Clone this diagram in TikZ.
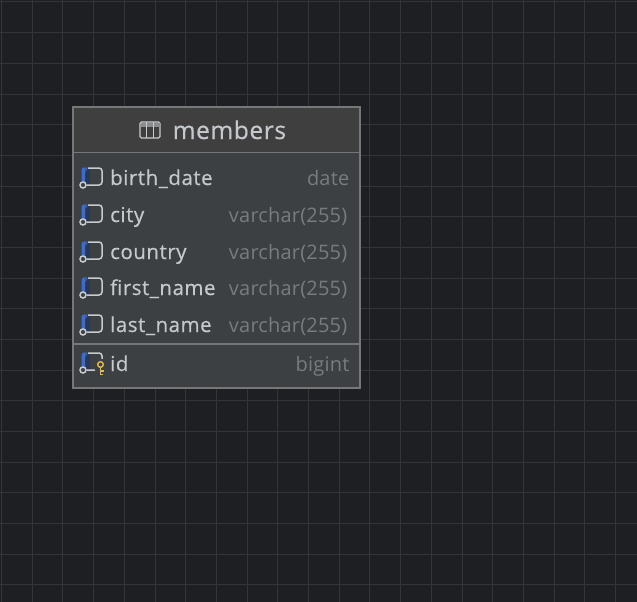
\documentclass[tikz,border=0pt]{standalone}
\usepackage{fontspec}
\setmainfont{Open Sans}
\usetikzlibrary{positioning,calc}
\definecolor{Canvas}{RGB}{30,31,34}
\definecolor{GridLine}{RGB}{51,53,54}
\definecolor{Head}{RGB}{63,63,63}
\definecolor{Body}{RGB}{60,64,67}
\definecolor{Edge}{RGB}{118,120,120}
\definecolor{Name}{RGB}{197,200,204}
\definecolor{Kind}{RGB}{120,124,128}
\definecolor{Blue}{RGB}{62,108,200}
\definecolor{DarkBlue}{RGB}{38,56,92}
\definecolor{Key}{RGB}{232,184,80}
\definecolor{Glyph}{RGB}{200,203,206}
\newcommand{\colicon}[1]{%
 \fill[DarkBlue] ($(#1)+(-25,-9.5)$) rectangle ($(#1)+(-20,8.5)$);
 \fill[Blue,rounded corners=3pt] ($(#1)+(-28.5,10)$) -- ($(#1)+(-28.5,-9.7)$) -- ($(#1)+(-23,-9.7)$) -- ($(#1)+(-23,-7.5)$) -- ($(#1)+(-25,-7.5)$) -- ($(#1)+(-25,10)$) -- cycle;
 \draw[Glyph,line width=1.5pt,rounded corners=3pt] ($(#1)+(-22,-9)$) -- ($(#1)+(-8,-9)$) -- ($(#1)+(-8,8)$) -- ($(#1)+(-23,8)$);
 \draw[Glyph,line width=1.5pt,fill=Body] ($(#1)+(-27,8)$) circle (3pt);
}
\begin{document}
\begin{tikzpicture}[x=1pt,y=-1pt,
 col/.style={anchor=base west,inner sep=0pt,text=Name,font=\fontsize{20.5}{24}\selectfont\addfontfeature{FakeBold=0.45,LetterSpace=2.5}},
 typ/.style={anchor=base east,inner sep=0pt,text=Kind,font=\fontsize{20}{24}\selectfont\addfontfeature{LetterSpace=1}},
 g/.style={GridLine,line width=1pt},
 sep/.style={Edge,line width=1.6pt}]
\useasboundingbox (0,0) rectangle (637,602);
\fill[Canvas] (0,0) rectangle (637,602);
% canvas grid
\foreach \i in {0,...,20} {
 \draw[g] ({1.5+30.7*\i},0) -- ({1.5+30.7*\i},602);
}
\foreach \i in {0,...,19} {
 \draw[g] (0,{2+30.68*\i}) -- (637,{2+30.68*\i});
}
% table
\fill[Body] (73,107) rectangle (360,388);
\fill[Head] (73,107) rectangle (360,152);
\draw[sep] (74,152.5) -- (359,152.5);
\draw[sep] (74,344) -- (359,344);
\draw[Edge,line width=1.3pt] (73,107) rectangle (360,388);
\node[anchor=base west,inner sep=0pt,text=Name,font=\fontsize{24.5}{28}\selectfont\addfontfeature{FakeBold=0.5,LetterSpace=2.5}] (title) at (172.5,139) {members};
\draw[Glyph,line width=1.2pt,rounded corners=1.5pt] (140,122) rectangle (160,138);
\fill[Glyph!55!Head] (140.5,122.5) rectangle (159.5,127);
\draw[Glyph,line width=1pt] (146.7,122) -- (146.7,138) (153.3,122) -- (153.3,138);
% rows
\node[col] (birth) at (110,185) {birth\_date};
\node[col] (city) at (110,222) {city};
\node[col] (country) at (110,259) {country};
\node[col] (first) at (110,295) {first\_name};
\node[col] (last) at (110,332) {last\_name};
\node[col] (id) at (110,371) {id};
\node[typ] (birthT) at (349.5,185) {date};
\node[typ] (cityT) at (347.5,222) {varchar(255)};
\node[typ] (countryT) at (347.5,259) {varchar(255)};
\node[typ] (firstT) at (347.5,295) {varchar(255)};
\node[typ] (lastT) at (347.5,332) {varchar(255)};
\node[typ] (idT) at (349.5,371) {bigint};
\coordinate (p1) at (110,177);
\coordinate (p2) at (110,214);
\coordinate (p3) at (110,251);
\coordinate (p4) at (110,287);
\coordinate (p5) at (110,324);
\coordinate (p6) at (110,362);
\foreach \p in {p1,p2,p3,p4,p5,p6} {\colicon{\p}}
% key of the id row
\fill[Body] (95,359) rectangle (105.5,376);
\draw[Key,line width=1.4pt] (100.5,364.5) circle (2.8pt);
\draw[Key,line width=1.4pt] (100.5,367.5) -- (100.5,374.5) (100.5,371) -- (104,371) (100.5,374.5) -- (103,374.5);
\end{tikzpicture}
\end{document}
